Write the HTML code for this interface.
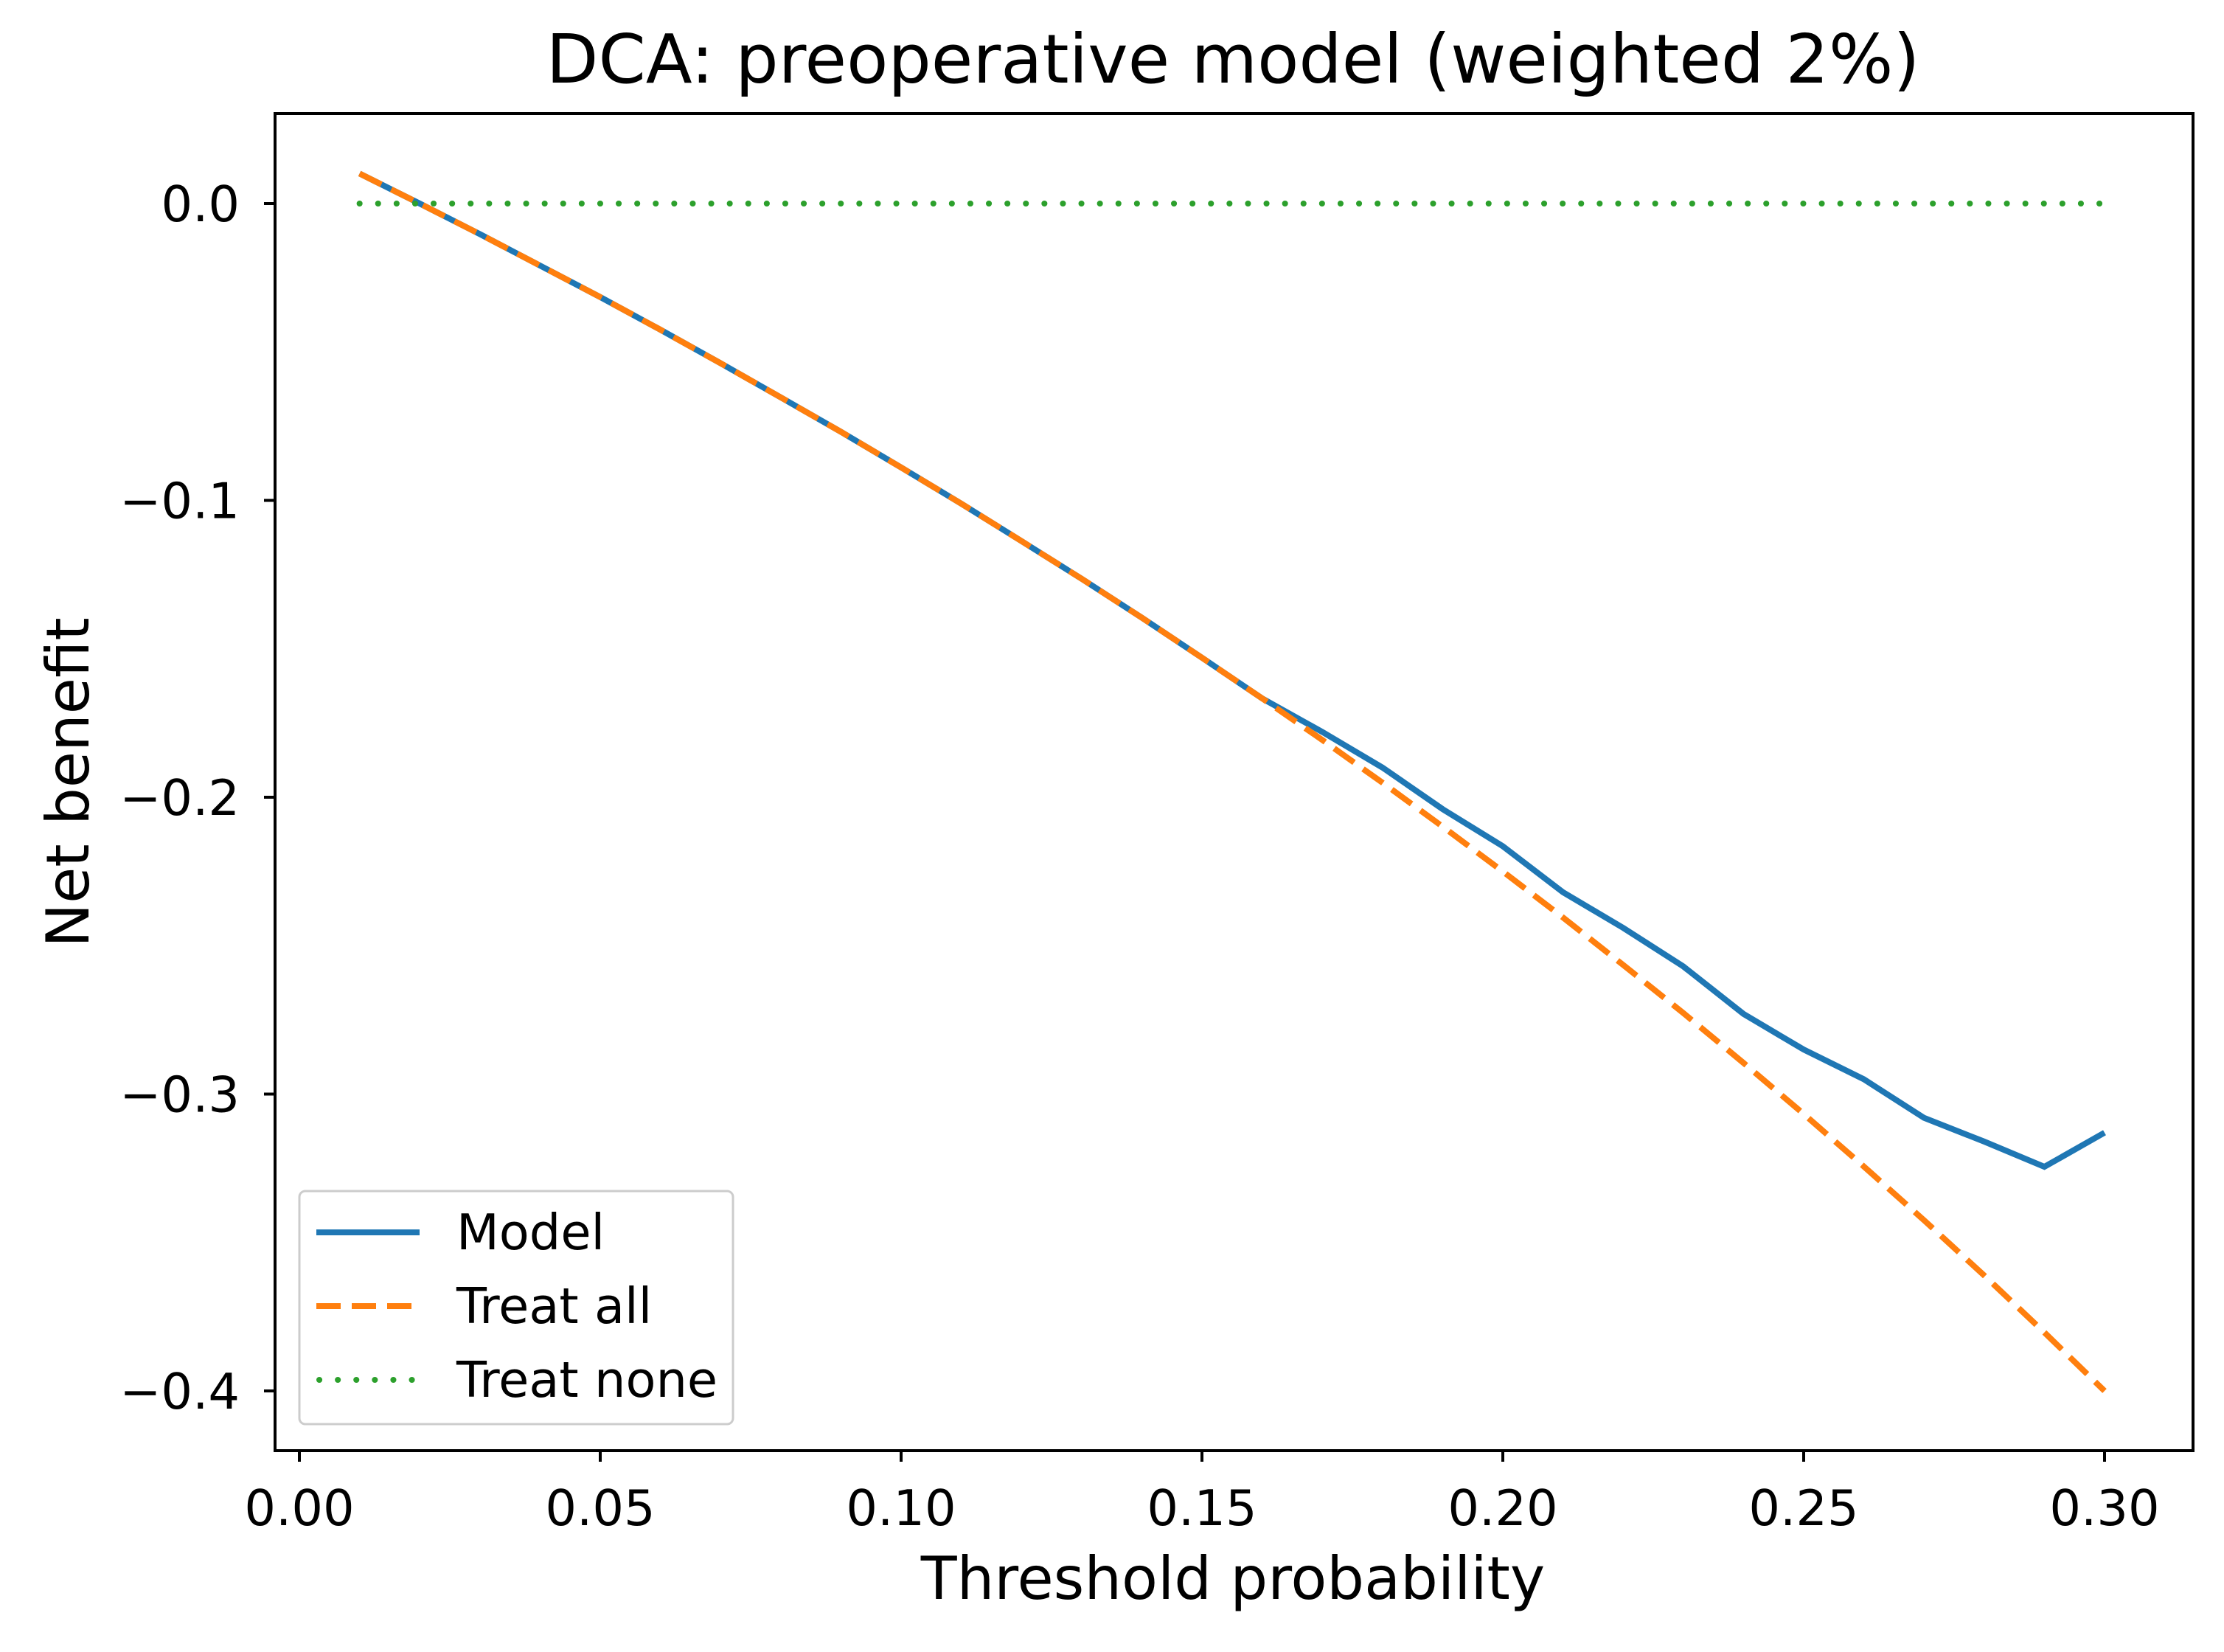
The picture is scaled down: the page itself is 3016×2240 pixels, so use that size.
<!DOCTYPE html>
<html><head><meta charset="utf-8"><style>
html,body{margin:0;padding:0;background:#fff;}
svg{display:block;font-family:"DejaVu Sans","Liberation Sans",sans-serif;}
</style></head><body>
<svg id="chart" width="3016" height="2240" viewBox="0 0 3016 2240">
<rect width="3016" height="2240" fill="#fff"/>
<text x="1672" y="112" font-size="92" text-anchor="middle" fill="#000">DCA: preoperative model (weighted 2%)</text>
<g id="plot"></g>
<rect x="373" y="154" width="2601" height="1813" fill="none" stroke="#000" stroke-width="4"/>
<g id="ticks"></g>
<text x="1672" y="2168" font-size="80" text-anchor="middle" fill="#000">Threshold probability</text>
<text transform="translate(120,1061) rotate(-90)" font-size="80" text-anchor="middle" fill="#000">Net benefit</text>
<g>
<rect x="406" y="1615" width="588" height="316" rx="8" fill="#fff" fill-opacity="0.8" stroke="#ccc" stroke-width="3"/>
<line x1="429" y1="1671" x2="569" y2="1671" stroke="#1f77b4" stroke-width="8"/>
<text x="619" y="1694" font-size="67">Model</text>
<line x1="429" y1="1771" x2="569" y2="1771" stroke="#ff7f0e" stroke-width="8" stroke-dasharray="33 15"/>
<text x="619" y="1794" font-size="67">Treat all</text>
<line x1="433" y1="1871" x2="569" y2="1871" stroke="#2ca02c" stroke-width="8" stroke-linecap="round" stroke-dasharray="0.1 25"/>
<text x="619" y="1894" font-size="67">Treat none</text>
</g>
</svg>
<script>
const thresholds=[0.01,0.02,0.03,0.04,0.05,0.06,0.07,0.08,0.09,0.10,0.11,0.12,0.13,0.14,0.15,0.16,0.17,0.18,0.19,0.20,0.21,0.22,0.23,0.24,0.25,0.26,0.27,0.28,0.29,0.30];
const treatAll=[0.0101,0.0000,-0.0103,-0.0209,-0.0315,-0.0425,-0.0538,-0.0653,-0.0769,-0.0889,-0.1011,-0.1137,-0.1264,-0.1395,-0.1530,-0.1667,-0.1807,-0.1951,-0.2099,-0.2250,-0.2405,-0.2565,-0.2727,-0.2895,-0.3067,-0.3244,-0.3425,-0.3611,-0.3803,-0.4000];
const model=[0.0101,0.0000,-0.0103,-0.0209,-0.0315,-0.0425,-0.0538,-0.0653,-0.0769,-0.0889,-0.1011,-0.1137,-0.1264,-0.1395,-0.1530,-0.1667,-0.178,-0.190,-0.204,-0.2165,-0.232,-0.244,-0.257,-0.273,-0.285,-0.295,-0.308,-0.316,-0.3245,-0.313];
const treatNone=[0,0,0,0,0,0,0,0,0,0,0,0,0,0,0,0,0,0,0,0,0,0,0,0,0,0,0,0,0,0];
const xTicks=[0,0.05,0.10,0.15,0.20,0.25,0.30];
const xTickLabels=["0.00","0.05","0.10","0.15","0.20","0.25","0.30"];
const yTicks=[0,-0.1,-0.2,-0.3,-0.4];
const yTickLabels=["0.0","\u22120.1","\u22120.2","\u22120.3","\u22120.4"];
const NS="http://www.w3.org/2000/svg";
function xs(v){return 406+v*8160;}
function ys(v){return 276-v*4025;}
const plot=document.getElementById('plot');
function series(vals,color,dash,name,cap){
  const p=document.createElementNS(NS,'polyline');
  p.setAttribute('points',thresholds.map((t,i)=>xs(t)+','+ys(vals[i])).join(' '));
  p.setAttribute('fill','none');p.setAttribute('stroke',color);p.setAttribute('stroke-width','8');
  if(dash)p.setAttribute('stroke-dasharray',dash);
  if(cap)p.setAttribute('stroke-linecap',cap);
  
  
  plot.appendChild(p);
}
series(model,'#1f77b4',null,'model-line');
series(treatAll,'#ff7f0e','33 15','treat-all-line');
series(treatNone,'#2ca02c','0.1 25','treat-none-line','round');
const tg=document.getElementById('ticks');
xTicks.forEach((v,i)=>{
  const l=document.createElementNS(NS,'line');
  l.setAttribute('x1',xs(v));l.setAttribute('x2',xs(v));l.setAttribute('y1',1967);l.setAttribute('y2',1982);
  l.setAttribute('stroke','#000');l.setAttribute('stroke-width','4');
  
  
  tg.appendChild(l);
  const t=document.createElementNS(NS,'text');
  t.setAttribute('x',xs(v));t.setAttribute('y',2068);t.setAttribute('font-size','67');t.setAttribute('text-anchor','middle');
  t.textContent=xTickLabels[i];
  
  
  tg.appendChild(t);
});
yTicks.forEach((v,i)=>{
  const l=document.createElementNS(NS,'line');
  l.setAttribute('x1',358);l.setAttribute('x2',373);l.setAttribute('y1',ys(v));l.setAttribute('y2',ys(v));
  l.setAttribute('stroke','#000');l.setAttribute('stroke-width','4');
  
  
  tg.appendChild(l);
  const t=document.createElementNS(NS,'text');
  t.setAttribute('x',325);t.setAttribute('y',ys(v)+24);t.setAttribute('font-size','67');t.setAttribute('text-anchor','end');
  t.textContent=yTickLabels[i];
  
  
  tg.appendChild(t);
});
</script>
</body></html>
